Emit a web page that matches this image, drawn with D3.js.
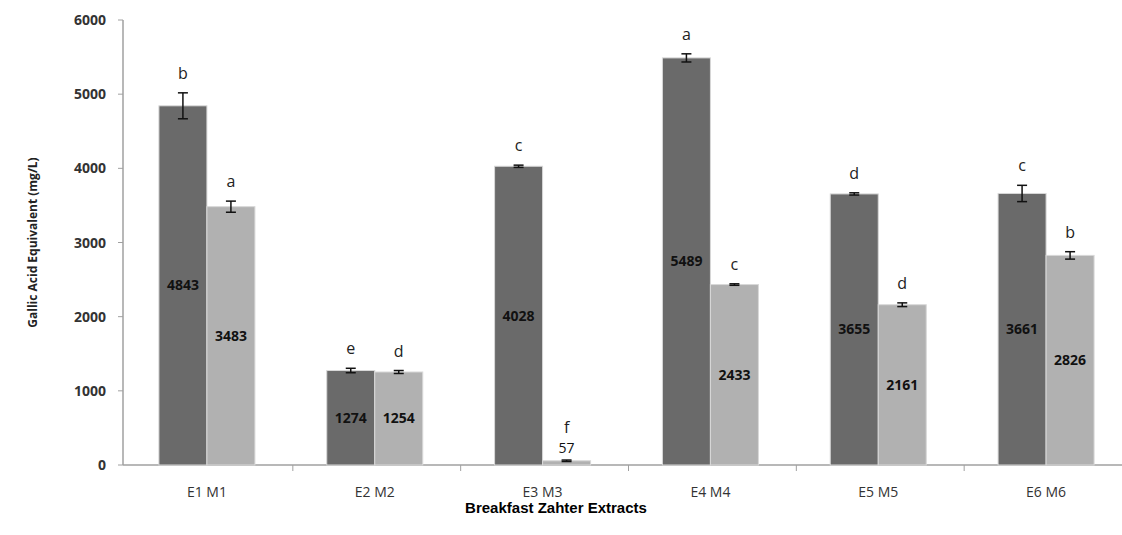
<!DOCTYPE html>
<html>
<head>
<meta charset="utf-8">
<script src="https://cdn.jsdelivr.net/npm/d3@7"></script>
<style>
  body { margin: 0; background: #fff; }
  text { font-family: "Open Sans", "DejaVu Sans", sans-serif; }
</style>
</head>
<body>
<div id="chart"></div>
<script>
// Data
const categories = ["E1 M1", "E2 M2", "E3 M3", "E4 M4", "E5 M5", "E6 M6"];
const extractE = [4843, 1274, 4028, 5489, 3655, 3661];
const extractM = [3483, 1254, 57, 2433, 2161, 2826];
const errorE = [175, 30, 15, 55, 15, 110];
const errorM = [75, 20, 10, 10, 25, 50];
const lettersE = ["b", "e", "c", "a", "d", "c"];
const lettersM = ["a", "d", "f", "c", "d", "b"];
const yTicks = [0, 1000, 2000, 3000, 4000, 5000, 6000];

// Set up the SVG
const width = 1122;
const height = 535;
const margin = { top: 20, right: -10, bottom: 70, left: 123 };

const svg = d3.select("#chart")
    .append("svg")
    .attr("width", width)
    .attr("height", height);

// Scales
const x = d3.scaleBand()
    .domain(categories)
    .range([margin.left + 2, width - margin.right])
    .paddingInner(0)
    .paddingOuter(0);

const y = d3.scaleLinear()
    .domain([0, 6000])
    .range([height - margin.bottom, margin.top]);

const barW = 48;

const rows = categories.map((c, i) => ({
    cat: c,
    bars: [
        { v: extractE[i], e: errorE[i], l: lettersE[i], fill: "#6a6a6a", off: -barW },
        { v: extractM[i], e: errorM[i], l: lettersM[i], fill: "#b1b1b1", off: 0 }
    ]
}));

// Axes
svg.append("line")
    .attr("x1", margin.left).attr("x2", width)
    .attr("y1", y(0)).attr("y2", y(0))
    .attr("stroke", "#a0a0a0").attr("stroke-width", 1.5);

svg.append("line")
    .attr("x1", margin.left).attr("x2", margin.left)
    .attr("y1", y(6000)).attr("y2", y(0))
    .attr("stroke", "#a0a0a0").attr("stroke-width", 1.5);

svg.selectAll(".ytick")
    .data(yTicks)
    .enter()
    .append("line")
    .attr("x1", margin.left - 5).attr("x2", margin.left)
    .attr("y1", d => y(d)).attr("y2", d => y(d))
    .attr("stroke", "#a0a0a0");

svg.selectAll(".ylab")
    .data(yTicks)
    .enter()
    .append("text")
    .attr("x", margin.left - 17)
    .attr("y", d => y(d) + 5)
    .attr("text-anchor", "end")
    .attr("font-size", 14)
    .attr("font-weight", "bold")
    .attr("fill", "#333")
    .text(d => d);

// category separators
svg.selectAll(".xtick")
    .data(categories.slice(1))
    .enter()
    .append("line")
    .attr("x1", d => x(d)).attr("x2", d => x(d))
    .attr("y1", y(0)).attr("y2", y(0) + 6)
    .attr("stroke", "#a0a0a0");

svg.selectAll(".xlab")
    .data(categories)
    .enter()
    .append("text")
    .attr("x", d => x(d) + x.bandwidth() / 2 - 2)
    .attr("y", y(0) + 32)
    .attr("text-anchor", "middle")
    .attr("font-size", 14)
    .attr("fill", "#333")
    .text(d => d);

// Bars
const g = svg.selectAll(".grp")
    .data(rows)
    .enter()
    .append("g")
    .attr("transform", d => `translate(${x(d.cat) + x.bandwidth() / 2 - 2},0)`);

const bar = g.selectAll(".bar")
    .data(d => d.bars)
    .enter()
    .append("g");

bar.append("rect")
    .attr("x", d => d.off)
    .attr("y", d => y(d.v))
    .attr("width", barW)
    .attr("height", d => y(0) - y(d.v))
    .attr("fill", d => d.fill)
    .attr("stroke", "#d8d8d8")
    .attr("stroke-width", 1);

// error bars
bar.append("line")
    .attr("x1", d => d.off + barW / 2).attr("x2", d => d.off + barW / 2)
    .attr("y1", d => y(d.v + d.e)).attr("y2", d => y(d.v - d.e))
    .attr("stroke", "#111").attr("stroke-width", 1.5);
bar.selectAll(".cap")
    .data(d => [d.v + d.e, d.v - d.e].map(t => ({ t, d })))
    .enter()
    .append("line")
    .attr("x1", c => c.d.off + barW / 2 - 5).attr("x2", c => c.d.off + barW / 2 + 5)
    .attr("y1", c => y(c.t)).attr("y2", c => y(c.t))
    .attr("stroke", "#111").attr("stroke-width", 1.5);

// significance letters
bar.append("text")
    .attr("x", d => d.off + barW / 2)
    .attr("y", d => d.v < 300 ? y(d.v) - 28 : y(d.v + d.e) - 14)
    .attr("text-anchor", "middle")
    .attr("font-size", 16)
    .attr("fill", "#222")
    .text(d => d.l);

// value labels
bar.append("text")
    .attr("x", d => d.off + barW / 2)
    .attr("y", d => d.v < 300 ? y(d.v) - 8 : y(d.v / 2) + 5)
    .attr("text-anchor", "middle")
    .attr("font-size", 14)
    .attr("font-weight", d => d.v < 300 ? "normal" : "bold")
    .attr("fill", "#111")
    .text(d => d.v);

// Axis titles
svg.append("text")
    .attr("transform", `translate(37,${(y(0) + y(6000)) / 2}) rotate(-90)`)
    .attr("text-anchor", "middle")
    .attr("font-size", 12)
    .attr("font-weight", "bold")
    .attr("fill", "#222")
    .text("Gallic Acid Equivalent (mg/L)");

svg.append("text")
    .attr("x", 556)
    .attr("y", 513)
    .attr("text-anchor", "middle")
    .attr("font-size", 15)
    .attr("font-weight", "bold")
    .style("font-family", "'Liberation Sans', Arial, sans-serif")
    .attr("fill", "#000")
    .text("Breakfast Zahter Extracts");
</script>
</body>
</html>
